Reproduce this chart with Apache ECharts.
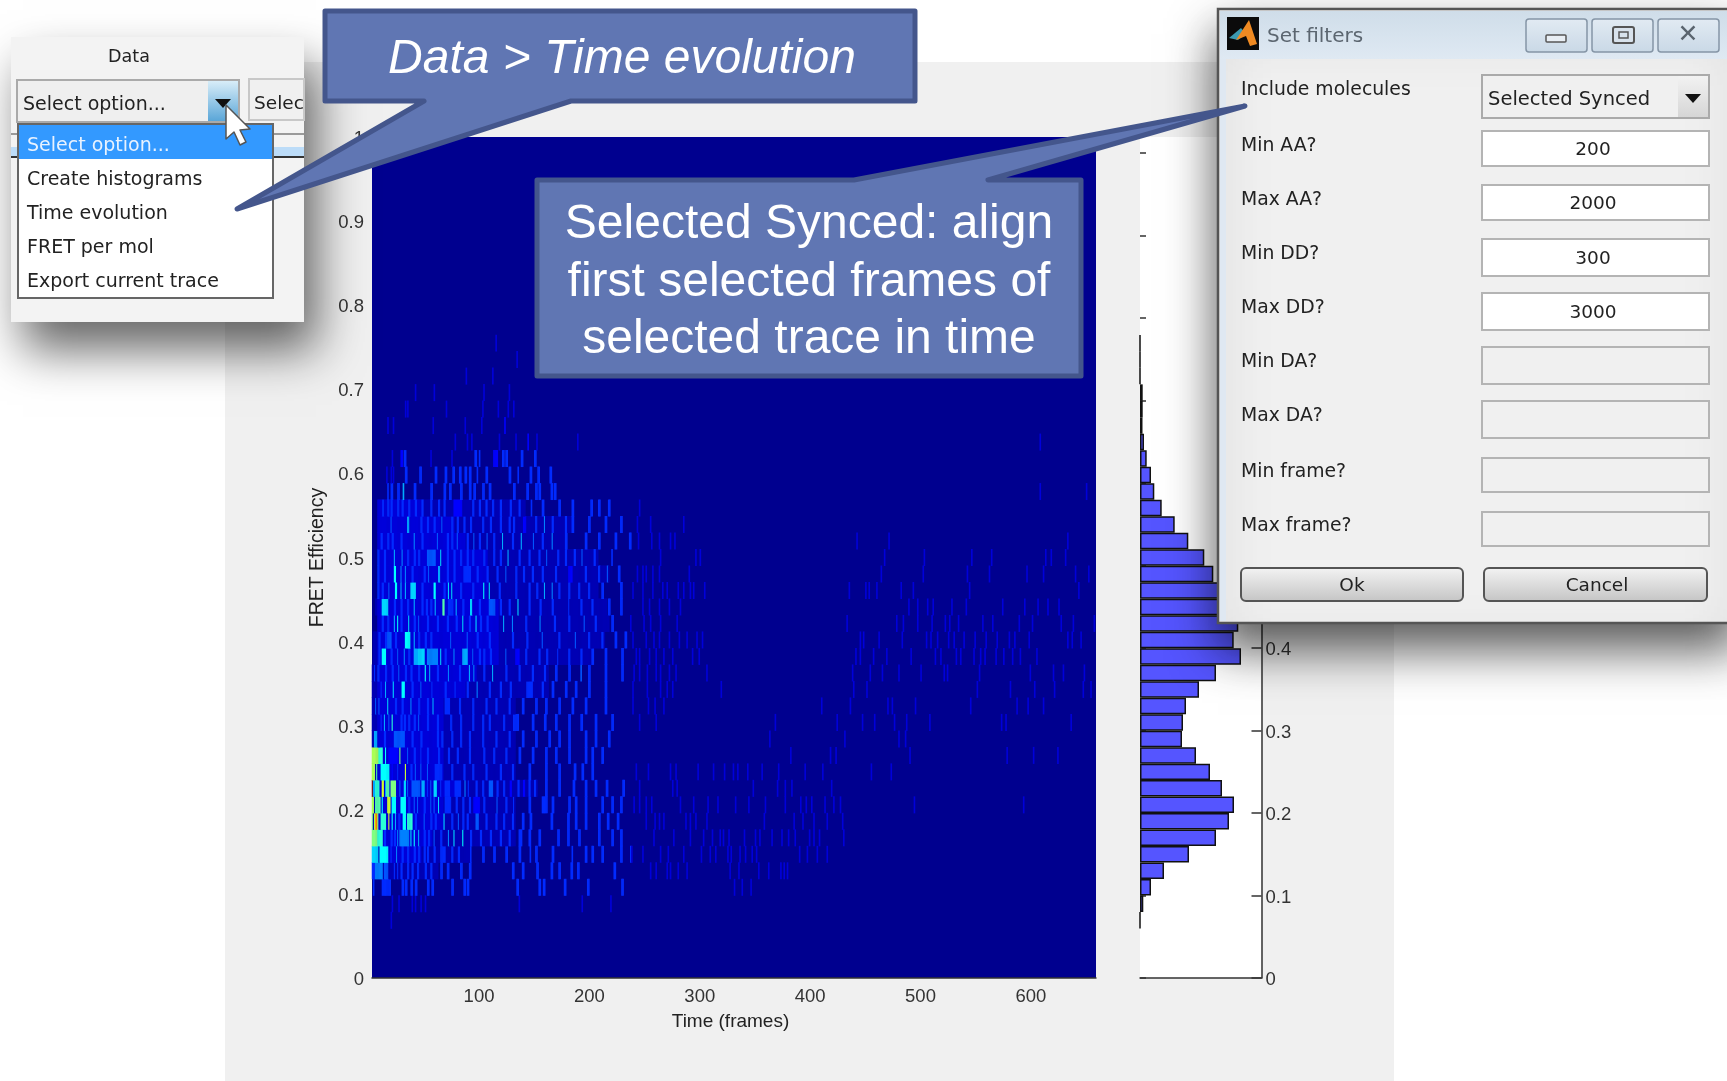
<!DOCTYPE html>
<html><head><meta charset="utf-8"><title>Time evolution</title>
<style>html,body{margin:0;padding:0;background:#fff;overflow:hidden}#c{width:1727px;height:1081px}</style>
<script src="https://cdn.jsdelivr.net/npm/echarts@6/dist/echarts.min.js"></script></head>
<body><div id="c"></div>
<script>
// Histogram on the right: bar length per FRET bin (bin index 0..50)
const histCounts = [null,null,null,0,3.3,11,24,49,76,89,94,82,70,56,42,43,46,59,76,101,93.7,98.3,92,86,73.3,64.3,48.3,34.7,21.7,14.3,11,6.7,4,2.5,2.7,2.7,0,0,0];
const xTicks = [100,200,300,400,500,600];
const yTicks = [0,0.1,0.2,0.3,0.4,0.5,0.6,0.7,0.8,0.9,1];
// Frames of steady medium-blue background at the left of each FRET bin (bin index 0..28)
const denseWidth = [0,0,0,0,0,0,0,0,50,60,60,70,60,60,60,60,60,80,90,110,110,110,110,100,100,100,80,70,40];
// Heat map stripes per FRET bin. A number is two frames with count 4; [frame,count,width] otherwise.
const r03=[[20,2]];
const r04=[[21,2],[27,2],[39,2],[42,2],[47,2],[51,2],[136,2],[193,2],[219,2]];
const r05=[[4,4],[12,4,6],18,30,33,38,42,53,57,75,86,89,134,154,158,177,198,229];
const r06=[[3,1,60],[3,4,3],[6,6,7],[14,5,4],[23,4],[26,4],29,35,39,44,51,56,65,71,83,91,130,139,152,165,172,183,189,222];
const r07=[[3,1,90],[3,8,6],[10,9,8],[18,2,30],[20,4],[25,6],30,35,41,45,50,53,59,[65,4,5],75,81,[92,4],103,113,124,136,[146,4],151,166,[184,4],196,202,211,228,237];
const r08=[[3,1,130],[3,12,5],[8,10,5],14,20,23,[26,6],[28,6,9],[38,8],[41,9],[45,7],50,54,[59,5],65,[72,6],[77,8],[85,9],92,101,110,119,127,[136,4,3],145,154,171,180,190,208,220,228];
const r09=[[3,1,130],[3,12],[5,13],[6,17],[7,18],[8,12],[11,10,5],[18,14],[21,9],[24,7],27,[31,9,3],[35,10,5],42,[50,5],56,60,[68,8],75,[81,5],85,89,[97,5,3],106,115,122,130,139,146,165,180,187,196,208,216,225];
const r10=[[3,1,130],[3,13,2],[6,11,5],[12,9],[17,14,3],[21,9,4],[29,9,5],36,[41,5],[44,5],50,[56,5],[59,5],[63,8],[69,4,6],79,85,91,[95,3,6],104,[116,5],124,[131,4],145,[157,4,5],166,181,187,196,211,220,228];
const r11=[[3,1,150],[3,24],[4,7,2],[6,10,4],[12,14,2],[15,7],[16,11,3],[20,12,5],[28,5],[32,8,2],[35,5],[39,5,8],[48,7,3],[53,4],[56,5],[59,8,3],[65,4],[69,4,5],[78,4,6],[87,6],[90,4],97,103,[109,5,4],116,122,[128,3,2],135,[140,3,2],145,150,160,172,185,196,205,215,230];
const r12=[[3,1,130],[3,13,3],[7,11],[11,9,8],[21,3],[26,4],[33,14],38,[42,5],[47,5],[53,5],[60,4,7],75,86,94,106,119,130,145,160,172,186,193,202];
const r13=[[3,1,130],[3,13,6],[9,10,4],[15,9],[18,3,9],[28,12],[35,5],41,[47,4],53,63,72,80,91,104,113,124,136,148,160,169,181,196,202,211];
const r14=[[3,1,130],[5,7,3],14,[23,5,10],39,47,62,66,75,83,91,103,115,127,139,151,163,172,181,196,205,217];
const r15=[[3,1,130],[11,4],[14,7],[18,5],[21,10],29,32,36,41,[45,5],53,62,74,83,94,103,109,122,[131,4,5],148,159,169,181,192,205,220];
const r16=[[3,1,130],[6,5],[9,5],[17,8],24,30,[38,6],45,53,[58,7],[69,4,5],82,94,106,115,127,139,151,160,172,184,196,214];
const r17=[[3,1,160],[11,4],[15,7],[22,8],[30,9,3],39,[47,5],[57,4],69,[78,4],89,[98,6],109,119,128,[143,4,6],157,166,178,187,199,214];
const r18=[[3,1,160],[5,4],8,15,21,[27,5],33,38,45,[51,9],[55,7],62,[72,6],82,[91,7],[95,6],104,[112,7],124,136,148,159,169,181,[192,5],199,214,229];
const r19=[[4,1,200],9,[12,9,4],20,[26,5],[32,6],36,[41,7,5],[45,8,6],[53,6,10],[65,8],69,[77,6],[85,7,5],[94,5],100,104,110,[124,5],[133,3,4],142,154,161,[171,4],181,192,202,214,229];
const r20=[[4,1,210],9,15,[17,5,4],24,[33,9,5],[41,7],45,51,56,[74,5],[89,5],98,109,130,143,[157,5],172,[187,5],199,211,223,232];
const r21=[[8,1,210],12,17,[23,7],[26,9],29,[36,8],41,[45,5],53,62,71,79,[85,8],91,[97,8],101,107,[122,7],[130,6],142,[155,6],168,181,[195,5],205,220];
const r22=[[6,1,210],[12,8,6],23,29,35,[41,7],48,52,56,[60,7],[67,11,2],[72,4,5],[79,7],85,[92,8,2],100,[109,5,6],119,127,[135,8],145,155,166,[181,4],192,202,217,228];
const r23=[[8,1,200],8,12,[18,5],[24,9,2],[29,7],[33,7],[38,8,5],48,[59,9,2],68,[72,8],[75,8],83,94,[104,9],[109,8],118,133,145,152,[159,7],[166,6],172,181,190,199,211,228];
const r24=[[8,1,210],8,14,[23,9,2],[29,6],[33,6],39,50,[54,5],[63,7,2],71,77,[86,4,7],98,107,116,[124,5],133,140,148,157,169,[181,3,4],196,208,[216,5],226];
const r25=[[8,1,200],8,14,[23,7],[30,6],35,41,45,[53,5,8],[65,8],71,77,83,89,94,104,113,119,[126,7],136,145,154,[161,5],171,178,186,[193,5],204,[220,4]];
const r26=[[10,1,170],11,17,21,29,[41,6],48,[62,5],71,75,[80,5],89,[95,5],100,[107,5],113,[121,7],130,[138,7],[149,5],157,[166,6],178,196,208,223,236];
const r27=[[14,1,170],[20,5],[35,7,2],47,53,59,[66,5],75,80,86,92,103,110,119,127,131,[140,3,3],151,[159,6],166,178,184,199,214,228];
const r28=[[12,1,130],12,17,20,26,30,36,42,48,56,63,68,[77,3,8],94,100,106,112,119,128,136,[147,4],157,172,184,201,208,217];
const r29=[[17,4],20,26,[31,7],41,56,68,73,83,91,95,103,109,131,143,151,154,165,168];
const r30=[[16,2],[20,2],[22,2],33,46,60,69,76,82,87,91,[98,4],106,127,[135,4],146,153,164];
const r31=[[21,2],[29,3,2],32,[56,2],[75,2],96,[100,4],[113,3,4],121,124,138,150];
const r32=[[78,2],[89,2],[93,2],[118,2],[133,2],[144,3],[152,2],[189,2]];
const r33=[[17,2],[22,2],[58,2],[87,2],[102,2],[123,3]];
const r34=[[33,2],[35,2],[70,2],[103,2],[117,2],[126,2],[131,2]];
const r35=[[42,2],[59,2],[104,2],[127,2]];
const r36=[[88,2],[112,2]];
const r37=[[134,2]];
const r38=[[115,2]];
// Faint stripes further right, one frame each, per FRET bin
const far05=[331,338,346];
const far06=[255,260,270,273,280,288,327,335,353,362,373,376,379];
const far07=[238,248,264,271,285,301,309,314,325,328,336,341,347,351,390,397,406,415];
const far08=[258,276,291,303,311,318,321,326,340,350,354,365,374,380,386,399,403,408,430];
const far09=[251,259,263,267,287,291,296,306,358,385,393,403,415,429];
const far10=[240,245,251,256,282,294,307,316,332,344,359,377,391,396,401,413,421,427,494,593];
const far11=[245,275,279,348,370,377,383,419];
const far12=[242,253,273,278,298,312,322,330,334,343,356,371,395,411,455,473];
const far13=[382,418,423,490,578,602,624];
const far14=[363,431,480,486];
const far15=[245,260,368,424,447,458,476,487,508,573,577,636];
const far16=[239,253,259,267,410,436,470,474,495,545,587,597,611];
const far17=[239,252,264,270,275,319,439,451,551,581,603,621,647,654];
const far18=[240,245,252,260,264,272,278,306,438,454,465,480,500,521,524,553,599,620,629,648];
const far19=[242,245,254,260,267,275,293,299,441,445,457,469,491,513,518,532,536,548,554,558,568,575,583,590,605];
const far20=[239,251,258,263,272,281,288,297,302,445,448,462,483,505,509,515,525,530,539,549,559,569,580,585,598,633,637,645];
const far21=[237,249,255,264,279,433,478,484,497,510,522,526,534,556,565,589,601,627,638,657];
const far22=[248,254,263,272,282,489,497,506,511,528,541,574,594,606,615,625];
const far23=[239,248,257,266,270,280,285,291,294,304,435,450,453,460,482,493,544,643];
const far24=[243,248,251,257,263,290,464,502,542,562,596,611,640,652];
const far25=[264,296,300,467,503,546,564,613,618,631];
const far26=[244,256,263,273,277,442,471,633];
const far27=[243,255,285];
const far28=[245];
const far29=[608,650];
const far32=[608];

const nearRows={3:r03,4:r04,5:r05,6:r06,7:r07,8:r08,9:r09,10:r10,11:r11,12:r12,13:r13,14:r14,15:r15,16:r16,17:r17,18:r18,19:r19,20:r20,21:r21,22:r22,23:r23,24:r24,25:r25,26:r26,27:r27,28:r28,29:r29,30:r30,31:r31,32:r32,33:r33,34:r34,35:r35,36:r36,37:r37,38:r38};
const farRows={5:far05,6:far06,7:far07,8:far08,9:far09,10:far10,11:far11,12:far12,13:far13,14:far14,15:far15,16:far16,17:far17,18:far18,19:far19,20:far20,21:far21,22:far22,23:far23,24:far24,25:far25,26:far26,27:far27,28:far28,29:far29,32:far32};
const firstFrame=3, lastFrame=658, binCount=51;
const frameCats=[]; for(let f=firstFrame;f<=lastFrame;f++) frameCats.push(f);
const binCats=[]; for(let b=0;b<binCount;b++) binCats.push(b);
const heat=[];
for(const r in nearRows){
  const m=new Map();
  const list=nearRows[r];
  if(Array.isArray(list[0])&&list[0][1]===1){const a=list[0];for(let i=0;i<a[2];i++)m.set(a[0]+i,1);}
  for(let i=0;i<(denseWidth[r]||0);i++)m.set(8+i,2);
  list.forEach(e=>{const a=Array.isArray(e)?e:[e,4,2];if(a[1]===1)return;const w=a[2]||1;for(let i=0;i<w;i++)m.set(a[0]+i,a[1]);});
  (farRows[r]||[]).forEach(f=>m.set(f,2));
  m.forEach((v,f)=>{if(f>=firstFrame&&f<=lastFrame)heat.push([f-firstFrame,+r,v]);});
}
const histData=binCats.map(b=>b<histCounts.length?histCounts[b]:null);

// --- overlay drawing helpers (window chrome and call-outs, not data) ---
const UI='"DejaVu Sans"', BLUE='#6076b3', BLUE2='#44568c';
const rect=(x,y,w,h,fill,extra={},z=60)=>({type:'rect',z,shape:{x,y,width:w,height:h,r:extra.r||0},style:Object.assign({fill,stroke:extra.stroke||null,lineWidth:extra.lw||1},extra.s||{}),silent:true});
const txt=(x,y,text,size,fill='#222',align='left',z=70,extra={})=>({type:'text',z,x,y:y+2,style:Object.assign({text,fontSize:size,fontFamily:UI,fill,align,verticalAlign:'middle'},extra),silent:true});
const poly=(pts,fill,stroke,lw,z=60)=>({type:'polygon',z,shape:{points:pts},style:{fill,stroke,lineWidth:lw,lineJoin:'round'},silent:true});
const grad=(a,b)=>({type:'linear',x:0,y:0,x2:0,y2:1,colorStops:[{offset:0,color:a},{offset:1,color:b}]});
const els=[];
// grey figure background
els.push(rect(225,62,1169,1019,'#f0f0f0',{},-10));
// Data panel
els.push(rect(11,37,293,285,'#f3f3f3',{s:{shadowBlur:45,shadowColor:'rgba(0,0,0,0.6)',shadowOffsetX:12,shadowOffsetY:28}},50));
els.push(txt(129,55,'Data',17.5,'#222','center'));
els.push(rect(17,80,222,42,'#efefef',{stroke:'#aaaaaa',lw:2}));
els.push(rect(208,81,30,40,grad('#d8edf8','#5aa6d8')));
els.push(poly([[215,99],[231,99],[223,108]],'#111',null,0,62));
els.push(txt(23,103,'Select option...',19));
els.push(rect(249,79,55,41,'#f0f0f0',{stroke:'#c8c8c8',lw:2}));
els.push(txt(254,102,'Selec',18.5));
els.push(rect(11,133,293,2,'#9a9a9a'));
els.push(rect(11,147,293,9,'#bcdcf8'));
els.push(rect(11,156,293,2,'#333'));
els.push(rect(18,124,255,174,'#ffffff',{stroke:'#666',lw:2},63));
els.push(rect(19,125,253,34,'#3399ff',{},64));
els.push(txt(27,144,'Select option...',19,'#e8f2ff'));
[['Create histograms',178],['Time evolution',212],['FRET per mol',246],['Export current trace',280]].forEach(a=>els.push(txt(27,a[1],a[0],19)));
els.push(poly([[226,105],[226,139],[234,132],[240,145],[246,142],[240,130],[250,129]],'#fff','#555',1.5,75));
// Set filters dialog
els.push(rect(1218,9,520,614,'#f0f0f0',{stroke:'#555',lw:2.5,s:{shadowBlur:45,shadowColor:'rgba(0,0,0,0.65)',shadowOffsetX:0,shadowOffsetY:25}},50));
els.push(rect(1220,11,520,48,grad('#cfdde9','#dfe9f3'),{},51));
els.push(rect(1220,59,6,562,'#dfe8f2',{},51));
els.push(rect(1227,17,32,33,'#0b0b0b',{},52));
els.push(poly([[1229,38],[1241,28],[1246,34],[1238,40]],'#3c9ab0',null,0,53));
els.push(poly([[1236,40],[1249,20],[1257,44],[1250,46],[1246,36]],'#ef8a22',null,0,53));
els.push(txt(1267,35,'Set filters',20,'#5c6670'));
[1526,1592,1658].forEach(x=>els.push(rect(x,19,61,33,grad('#e2ebf3','#c9d8e6'),{stroke:'#8595a6',lw:1.5,r:3})));
els.push(rect(1546,35,20,7,'#e8eef4',{stroke:'#555',lw:1.5,r:1},62));
els.push(rect(1613,27,21,16,'#d8e2ec',{stroke:'#555',lw:2,r:2},62));
els.push(rect(1619,32,9,6,'#d8e2ec',{stroke:'#555',lw:1.5},63));
els.push(txt(1688,33,'\u2715',25,'#5a646e','center',70,{fontWeight:'bold'}));
[['Include molecules',88],['Min AA?',144],['Max AA?',198],['Min DD?',252],['Max DD?',306],['Min DA?',360],['Max DA?',414],['Min frame?',470],['Max frame?',524]].forEach(a=>els.push(txt(1241,a[1],a[0],18.8)));
els.push(rect(1482,75,227,43,'#f0f0f0',{stroke:'#aaa',lw:2}));
els.push(rect(1678,76,30,41,grad('#f2f2f2','#d6d6d6'),{},61));
els.push(poly([[1685,94],[1701,94],[1693,103]],'#111',null,0,62));
els.push(txt(1488,98,'Selected Synced',19.5));
[[131,35,'200'],[185,35,'2000'],[239,37,'300'],[293,37,'3000'],[347,37,''],[401,37,''],[458,34,''],[512,34,'']].forEach(a=>{
  els.push(rect(1482,a[0],227,a[1],a[2]?'#ffffff':'#f0f0f0',{stroke:'#b4b4b4',lw:2}));
  if(a[2])els.push(txt(1593,a[0]+a[1]/2,a[2],18.5,'#222','center'));
});
[[1241,222,'Ok',1352],[1484,223,'Cancel',1597]].forEach(a=>{
  els.push(rect(a[0],568,a[1],33,grad('#f4f4f4','#c4c4c4'),{stroke:'#555',lw:2,r:5}));
  els.push(txt(a[3],584,a[2],18.5,'#222','center'));
});
// Call-outs
els.push(poly([[325,11],[915,11],[915,101],[571,101],[237,209],[424,101],[325,101]],BLUE,BLUE2,5,90));
els.push(txt(622,58,'Data > Time evolution',48,'#fff','center',95,{fontFamily:'"Liberation Sans"',fontStyle:'italic'}));
els.push(poly([[537,180],[854,180],[1245,106],[988,180],[1081,180],[1081,376],[537,376]],BLUE,BLUE2,5,90));
[['Selected Synced: align',223],['first selected frames of',281],['selected trace in time',338]].forEach(a=>els.push(txt(809,a[1],a[0],48,'#fff','center',95,{fontFamily:'"Liberation Sans"'})));

const tickFont={fontFamily:'"Liberation Sans"',fontSize:18.5,color:'#333'};
const lineDark={lineStyle:{color:'#333',width:1.5}};
const shiftedLabel={formatter:v=>'{a|'+v+'}',rich:{a:{fontFamily:'"Liberation Sans"',fontSize:18.5,color:'#333',padding:[4,0,0,0]}}};
const chart=echarts.init(document.getElementById('c'),null,{renderer:'canvas'});
chart.setOption({
  animation:false,
  backgroundColor:'#ffffff',
  grid:[
    {left:372,top:137,width:724,height:841,show:true,backgroundColor:'#00008f',borderWidth:0},
    {left:1140,top:137,width:121.5,height:841,show:true,backgroundColor:'#ffffff',borderWidth:0}
  ],
  xAxis:[
    {type:'category',gridIndex:0,data:frameCats,show:false},
    {type:'value',gridIndex:0,min:3,max:659,position:'bottom',name:'Time (frames)',nameLocation:'middle',nameGap:34,
     nameTextStyle:{fontFamily:'"Liberation Sans"',fontSize:19,color:'#222',padding:[0,7,0,0]},
     axisLine:Object.assign({show:true},lineDark),axisTick:{show:false},splitLine:{show:false},
     axisLabel:Object.assign({customValues:xTicks,margin:9},tickFont)},
    {type:'value',gridIndex:1,min:0,max:121.5,position:'bottom',
     axisLine:Object.assign({show:true},lineDark),axisTick:{show:false},axisLabel:{show:false},splitLine:{show:false}}
  ],
  yAxis:[
    {type:'category',gridIndex:0,data:binCats,show:false},
    {type:'value',gridIndex:0,min:0,max:1,position:'left',name:'FRET Efficiency',nameLocation:'middle',nameGap:44,nameRotate:90,
     nameTextStyle:{fontFamily:'"Liberation Sans"',fontSize:19.5,color:'#222'},
     axisLine:{show:false},axisTick:{show:false},splitLine:{show:false},
     axisLabel:Object.assign({customValues:yTicks,margin:8},shiftedLabel)},
    {type:'category',gridIndex:1,data:binCats,show:false},
    {type:'value',gridIndex:1,min:0,max:841/825,position:'right',
     axisLine:Object.assign({show:true},lineDark),
     axisTick:{show:true,inside:true,length:10,lineStyle:{color:'#333',width:1.5},customValues:yTicks},splitLine:{show:false},
     axisLabel:Object.assign({customValues:yTicks,margin:4},shiftedLabel)},
    {type:'value',gridIndex:1,min:0,max:841/825,position:'left',
     axisLine:{show:false},axisLabel:{show:false},splitLine:{show:false},
     axisTick:{show:true,inside:true,length:6,lineStyle:{color:'#333',width:1.5},customValues:yTicks}}
  ],
  visualMap:{show:false,seriesIndex:0,dimension:2,min:0,max:24,
    inRange:{color:['#00008f','#0000ff','#0080ff','#00ffff','#80ff80','#ffff00','#ff8000','#ff0000','#800000']}},
  series:[
    {type:'heatmap',xAxisIndex:0,yAxisIndex:0,data:heat,progressive:0,animation:false,silent:true,
     emphasis:{disabled:true},itemStyle:{borderWidth:0}},
    {type:'bar',xAxisIndex:2,yAxisIndex:2,data:histData,barWidth:'100%',silent:true,z:3,
     itemStyle:{color:'#5555ff',borderColor:'#111',borderWidth:1.5}}
  ],
  graphic:{elements:els}
});
</script></body></html>
